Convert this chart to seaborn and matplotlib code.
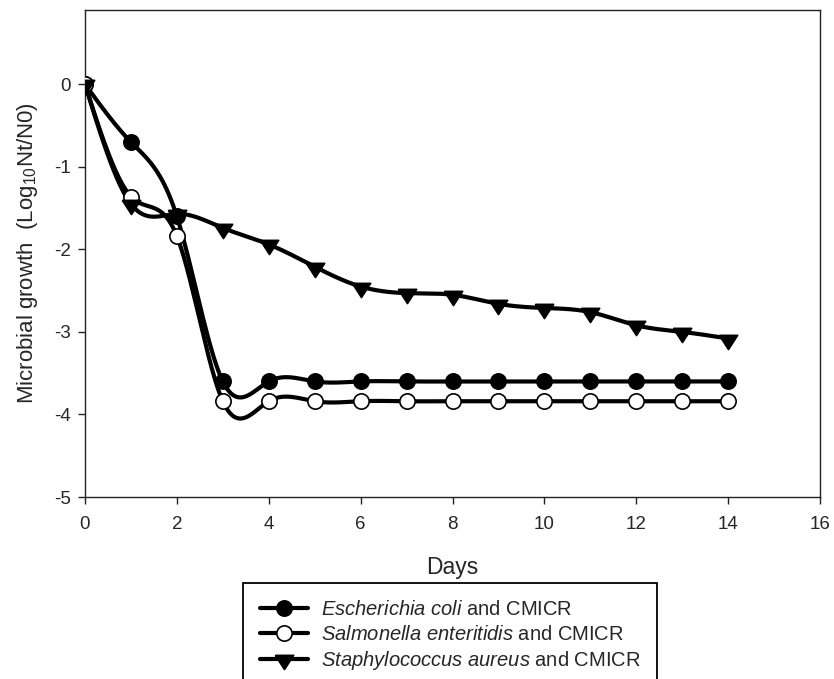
import numpy as np
import pandas as pd
import matplotlib
matplotlib.use('Agg')
import matplotlib.pyplot as plt
from matplotlib.lines import Line2D
import seaborn as sns

# data
days = [0, 1, 2, 3, 4, 5, 6, 7, 8, 9, 10, 11, 12, 13, 14]
ecoli = [0, -0.70, -1.60, -3.60, -3.60, -3.60, -3.60, -3.60, -3.60, -3.60, -3.60, -3.60, -3.60, -3.60, -3.60]
salmonella = [0, -1.36, -1.84, -3.84, -3.84, -3.84, -3.84, -3.84, -3.84, -3.84, -3.84, -3.84, -3.84, -3.84, -3.84]
staph = [0, -1.45, -1.57, -1.74, -1.94, -2.21, -2.45, -2.53, -2.55, -2.66, -2.71, -2.76, -2.92, -3.00, -3.08]

labels = [r'$\mathit{Escherichia\ coli}$ and CMICR',
          r'$\mathit{Salmonella\ enteritidis}$ and CMICR',
          r'$\mathit{Staphylococcus\ aureus}$ and CMICR']

sns.set_style('ticks')
plt.rcParams['font.family'] = ['Liberation Sans', 'DejaVu Sans']
plt.rcParams['mathtext.fontset'] = 'custom'
plt.rcParams['mathtext.rm'] = 'Liberation Sans'
plt.rcParams['mathtext.it'] = 'Liberation Sans:italic'
plt.rcParams['axes.unicode_minus'] = False


def spline(x, y, n=600):
    # natural cubic spline, like the smoothed curve in the original plot
    x = np.asarray(x, float)
    y = np.asarray(y, float)
    h = np.diff(x)
    k = len(x)
    A = np.zeros((k, k))
    b = np.zeros(k)
    A[0, 0] = A[-1, -1] = 1
    for i in range(1, k - 1):
        A[i, i - 1] = h[i - 1]
        A[i, i] = 2 * (h[i - 1] + h[i])
        A[i, i + 1] = h[i]
        b[i] = 6 * ((y[i + 1] - y[i]) / h[i] - (y[i] - y[i - 1]) / h[i - 1])
    M = np.linalg.solve(A, b)
    xs = np.linspace(x[0], x[-1], n)
    idx = np.clip(np.searchsorted(x, xs) - 1, 0, k - 2)
    x0, x1 = x[idx], x[idx + 1]
    hh = x1 - x0
    t0, t1 = x1 - xs, xs - x0
    ys = (M[idx] * t0 ** 3 + M[idx + 1] * t1 ** 3) / (6 * hh) \
        + (y[idx] / hh - M[idx] * hh / 6) * t0 \
        + (y[idx + 1] / hh - M[idx + 1] * hh / 6) * t1
    return xs, ys


tri = [(-1, 0.45), (1, 0.45), (0, -1.1), (-1, 0.45)]
styles = [dict(marker='o', mfc='black', ms=11),
          dict(marker='o', mfc='white', ms=11),
          dict(marker=tri, mfc='black', ms=14.5)]

fig = plt.figure(figsize=(8.34, 6.79), dpi=100)
ax = fig.add_axes([85 / 834, 1 - 497 / 679, 735 / 834, 487 / 679])

series = [ecoli, salmonella, staph]
for vals in series:
    xs, ys = spline(days, vals)
    curve = pd.DataFrame({'Days': xs, 'Growth': ys})
    sns.lineplot(data=curve, x='Days', y='Growth', color='black', lw=3, ax=ax, zorder=2)

for vals, st in zip(series, styles):
    ax.plot(days, vals, linestyle='none', mec='black', mew=1.2, zorder=3, **st)

ax.set_xlim(0, 16)
ax.set_ylim(-5, 0.9)
ax.set_xticks(range(0, 17, 2))
ax.set_yticks(range(-5, 1))
ax.tick_params(direction='out', length=5, width=1, labelsize=13.5, color='#222222')
ax.tick_params(axis='x', pad=9)
ax.tick_params(axis='y', pad=5)
for s in ax.spines.values():
    s.set_visible(True)
    s.set_linewidth(1)
    s.set_color('#222222')

ax.set_xlabel('Days', fontsize=16.5, labelpad=16)
ax.set_ylabel(r'Microbial growth  (Log$_{10}$Nt/N0)', fontsize=16, labelpad=10)

handles = [Line2D([], [], color='black', lw=3, mec='black', mew=1.2, **st) for st in styles]
leg = fig.legend(handles, labels, loc='upper left', bbox_to_anchor=(243 / 834, 1 - 583 / 679),
                 bbox_transform=fig.transFigure, fontsize=14.5, frameon=True, fancybox=False,
                 edgecolor='black', framealpha=1, borderaxespad=0, borderpad=0.85,
                 handlelength=2.4, handletextpad=0.6, labelspacing=0.27)
leg.get_frame().set_linewidth(1.3)

fig.savefig('out.png', dpi=100)
